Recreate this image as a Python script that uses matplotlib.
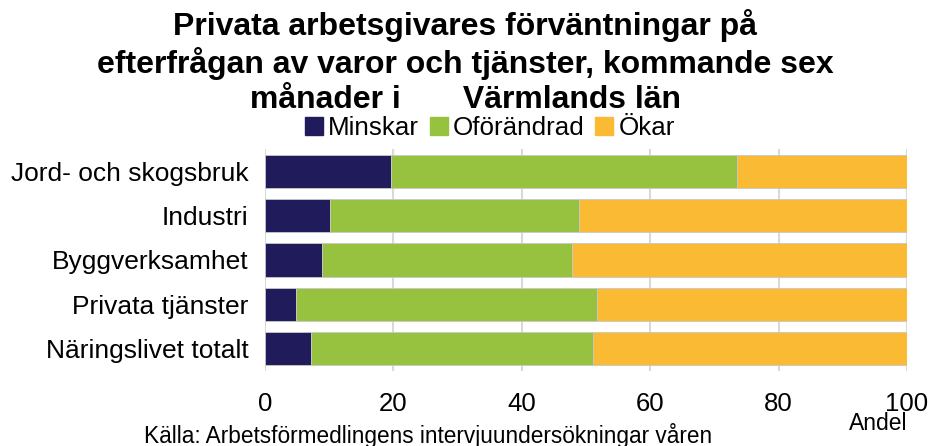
import matplotlib
matplotlib.use("Agg")
import matplotlib.pyplot as plt
import numpy as np

plt.rcParams['font.family'] = ['Liberation Sans', 'DejaVu Sans']

categories = ["Jord- och skogsbruk", "Industri", "Byggverksamhet", "Privata tjänster", "Näringslivet totalt"]
minskar = [19.6, 10.1, 8.9, 4.8, 7.2]
oforandrad = [53.9, 38.8, 38.9, 46.9, 43.9]
okar = [26.5, 51.1, 52.2, 48.3, 48.9]
series_names = ["Minskar", "Oförändrad", "Ökar"]
colors = ["#201c5c", "#97c23f", "#fbba34"]
xticks = [0, 20, 40, 60, 80, 100]

fig = plt.figure(figsize=(9.3, 4.46), dpi=100)
ax = fig.add_axes([265/930, 1-371/446, 642/930, 222/446])

y = np.arange(len(categories))
left = np.zeros(len(categories))
for vals, name, c in zip([minskar, oforandrad, okar], series_names, colors):
    ax.barh(y, vals, left=left, height=0.75, color=c, edgecolor='#c8c8c8', linewidth=0.6, label=name, zorder=3)
    left += np.array(vals)

ax.set_ylim(len(categories)-0.5, -0.5)
ax.set_xlim(0, 100)
ax.set_yticks(y)
ax.set_yticklabels(categories, fontsize=19)
ax.set_xticks(xticks)
ax.set_xticklabels([str(t) for t in xticks], fontsize=18.5)
ax.tick_params(axis='y', length=0, pad=12)
ax.tick_params(axis='x', length=0, pad=15)
for s in ax.spines.values():
    s.set_visible(False)
ax.grid(axis='x', color='#d9d9d9', linewidth=1.5, zorder=0)

fig.text(0.5, 1-62/446, "Privata arbetsgivares förväntningar på\nefterfrågan av varor och tjänster, kommande sex\nmånader i       Värmlands län",
         ha='center', va='center', fontsize=23, fontweight='bold', linespacing=1.2)

handles = [plt.Rectangle((0, 0), 1, 1, color=c) for c in colors]
fig.legend(handles, series_names, loc='center', bbox_to_anchor=(490/930, 1-128/446), ncol=3,
           frameon=False, fontsize=18.7, handlelength=0.7, handleheight=0.7, handletextpad=0.2,
           columnspacing=0.4, borderpad=0, borderaxespad=0)

fig.text(878/930, 1-424/446, "Andel", ha='center', va='center', fontsize=16.5)
fig.text(428/930, 1-435/446, "Källa: Arbetsförmedlingens intervjuundersökningar våren", ha='center', va='center', fontsize=16.3)

fig.savefig("out.png", dpi=100)
